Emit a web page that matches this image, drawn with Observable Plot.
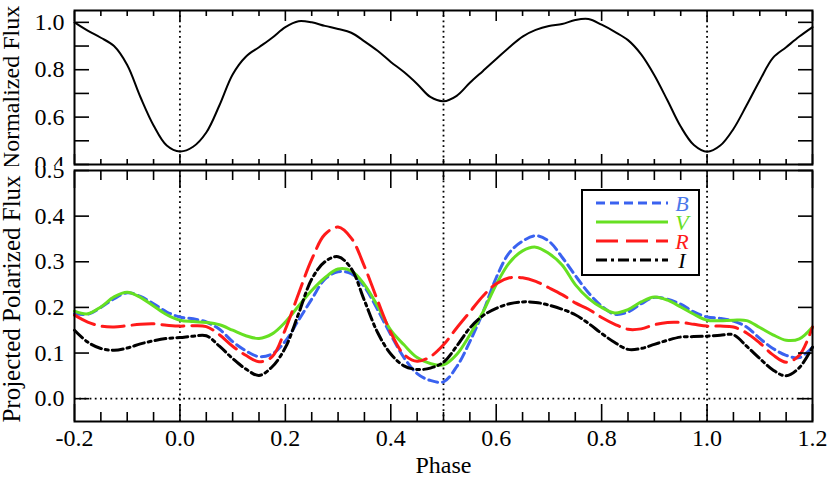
<!DOCTYPE html>
<html><head><meta charset="utf-8">
<script src="https://cdn.jsdelivr.net/npm/d3@7"></script>
<script src="https://cdn.jsdelivr.net/npm/@observablehq/plot@0.6"></script>
<style>
body{margin:0;background:#fff;}
#wrap{position:relative;width:830px;height:480px;overflow:hidden;background:#fff;}
#wrap svg{position:absolute;left:0;overflow:hidden;}
#wrap svg text{font-family:"Liberation Serif","Tinos","Times New Roman","DejaVu Serif","Noto Serif",serif !important;}
</style></head><body><div id="wrap"></div>
<script>
const phase = [-0.2,-0.175,-0.15,-0.125,-0.1,-0.075,-0.05,-0.025,0,0.025,0.05,0.075,0.1,0.125,0.15,0.175,0.2,0.225,0.25,0.275,0.3,0.325,0.35,0.375,0.4,0.425,0.45,0.475,0.5,0.525,0.55,0.575,0.6,0.625,0.65,0.675,0.7,0.725,0.75,0.775,0.8,0.825,0.85,0.875,0.9,0.925,0.95,0.975,1.0,1.025,1.05,1.075,1.1,1.125,1.15,1.175,1.2];
const normFlux = [1.0,0.965,0.935,0.9,0.82,0.685,0.565,0.48,0.455,0.475,0.535,0.65,0.78,0.855,0.895,0.935,0.98,1.005,1.0,0.985,0.972,0.956,0.92,0.88,0.833,0.79,0.74,0.685,0.667,0.69,0.745,0.795,0.845,0.895,0.94,0.968,0.985,0.993,1.01,1.014,0.99,0.96,0.925,0.865,0.777,0.67,0.56,0.482,0.454,0.48,0.55,0.65,0.755,0.85,0.895,0.94,0.98];
const polB = [0.186,0.185,0.2,0.219,0.232,0.224,0.208,0.19,0.179,0.175,0.168,0.152,0.125,0.105,0.092,0.098,0.126,0.172,0.218,0.262,0.278,0.274,0.245,0.195,0.14,0.09,0.055,0.04,0.037,0.07,0.125,0.19,0.265,0.32,0.345,0.357,0.345,0.31,0.27,0.232,0.203,0.185,0.19,0.208,0.222,0.218,0.207,0.19,0.179,0.176,0.17,0.157,0.132,0.11,0.095,0.09,0.113];
const polV = [0.192,0.186,0.201,0.223,0.233,0.222,0.203,0.184,0.172,0.169,0.167,0.162,0.15,0.138,0.132,0.142,0.168,0.203,0.237,0.265,0.284,0.28,0.25,0.203,0.15,0.118,0.09,0.077,0.074,0.097,0.14,0.19,0.25,0.298,0.324,0.332,0.318,0.293,0.25,0.22,0.2,0.188,0.195,0.212,0.223,0.216,0.201,0.185,0.172,0.171,0.172,0.171,0.156,0.14,0.128,0.131,0.157];
const polR = [0.183,0.168,0.159,0.157,0.16,0.163,0.164,0.161,0.159,0.16,0.158,0.14,0.115,0.095,0.081,0.092,0.152,0.23,0.305,0.36,0.376,0.352,0.29,0.215,0.145,0.097,0.082,0.092,0.118,0.155,0.19,0.225,0.252,0.265,0.265,0.257,0.243,0.228,0.21,0.196,0.178,0.163,0.152,0.153,0.162,0.167,0.167,0.163,0.159,0.159,0.157,0.144,0.122,0.096,0.08,0.095,0.157];
const polI = [0.15,0.124,0.11,0.106,0.111,0.12,0.127,0.132,0.134,0.137,0.138,0.115,0.088,0.065,0.051,0.07,0.112,0.186,0.262,0.3,0.311,0.285,0.215,0.145,0.098,0.072,0.064,0.067,0.08,0.115,0.155,0.182,0.198,0.208,0.212,0.211,0.205,0.196,0.184,0.165,0.143,0.123,0.108,0.11,0.119,0.128,0.135,0.136,0.137,0.139,0.14,0.115,0.088,0.063,0.05,0.068,0.113];

const bandNames = ["B","V","R","I"];
const bandColors = ["#3a62f0","#66e022","#ff1a1a","#000000"];
const bandDash = ["9,5",null,"22,8","11,4,3,4"];
const bandValues = [polB, polV, polR, polI];

const xMajorTicks = [-0.2,0,0.2,0.4,0.6,0.8,1.0,1.2];
const xMinorTicks = [-0.15,-0.1,-0.05,0.05,0.1,0.15,0.25,0.3,0.35,0.45,0.5,0.55,0.65,0.7,0.75,0.85,0.9,0.95,1.05,1.1,1.15];
const yTopTicks = [0.4,0.5,0.6,0.7,0.8,0.9,1.0];
const yTopLabels = [0.4,0.6,0.8,1.0];
const yBotTicks = [0,0.1,0.2,0.3,0.4,0.5];
const refPhases = [0,0.5,1.0];
const zeroLine = [0];
const topTitle = "Normalized Flux";
const botTitle = ["Projected Polarized Flux"];
const xTitle = "Phase";

const fmt = d => d.toFixed(1);
const blank = () => "";
const FONT = '"Liberation Serif","Tinos","Times New Roman","DejaVu Serif","Noto Serif",serif';
const font = {fontFamily: FONT, fontSize: "24px", background: "white", color: "black"};
const W = 830, ML = 74, MR = 18;

function tickAxes(yTicks, majorLen, minorLen, yLen) {
  return [
    Plot.axisX({anchor: "bottom", ticks: xMajorTicks, tickSize: majorLen, dy: -majorLen, tickFormat: blank, label: null, strokeWidth: 1.6}),
    Plot.axisX({anchor: "bottom", ticks: xMinorTicks, tickSize: minorLen, dy: -minorLen, tickFormat: blank, label: null, strokeWidth: 1.6}),
    Plot.axisX({anchor: "top", ticks: xMajorTicks, tickSize: majorLen, dy: majorLen, tickFormat: blank, label: null, strokeWidth: 1.6}),
    Plot.axisX({anchor: "top", ticks: xMinorTicks, tickSize: minorLen, dy: minorLen, tickFormat: blank, label: null, strokeWidth: 1.6}),
    Plot.axisY({anchor: "left", ticks: yTicks, tickSize: yLen, dx: yLen, tickFormat: blank, label: null, strokeWidth: 1.6}),
    Plot.axisY({anchor: "right", ticks: yTicks, tickSize: yLen, dx: -yLen, tickFormat: blank, label: null, strokeWidth: 1.6})
  ];
}

const topData = phase.map((p, i) => ({phase: p, flux: normFlux[i]}));
const topPlot = Plot.plot({
  width: W, height: 166, marginTop: 10, marginBottom: 2, marginLeft: ML, marginRight: MR,
  style: font,
  x: {domain: [-0.2, 1.2]},
  y: {domain: [0.4, 1.05]},
  marks: [
    Plot.ruleX(refPhases, {x: d => d, stroke: "black", strokeWidth: 1.8, strokeDasharray: "1.8,3.4"}),
    Plot.line(topData, {x: "phase", y: "flux", stroke: "black", strokeWidth: 2, curve: "catmull-rom"}),
    ...tickAxes(yTopTicks, 10, 5, 15),
    Plot.axisY({anchor: "left", ticks: yTopLabels, tickSize: 0, tickPadding: 10, tickFormat: fmt,
      label: topTitle, labelAnchor: "center", labelOffset: 73, labelArrow: "none"}),
    Plot.frame({stroke: "black", strokeWidth: 2})
  ]
});
topPlot.style.top = "0px";

const rows = [];
bandNames.forEach((b, k) => phase.forEach((p, i) => rows.push({phase: p, value: bandValues[k][i], band: b})));

const botPlot = Plot.plot({
  width: W, height: 314, marginTop: 4, marginBottom: 59, marginLeft: ML, marginRight: MR,
  style: font,
  x: {domain: [-0.2, 1.2]},
  y: {domain: [-0.05, 0.5]},
  marks: [
    Plot.ruleX(refPhases, {x: d => d, stroke: "black", strokeWidth: 1.8, strokeDasharray: "1.8,3.4"}),
    Plot.ruleY(zeroLine, {y: d => d, stroke: "black", strokeWidth: 1.8, strokeDasharray: "1.8,3.4"}),
    ...bandNames.map((b, k) => Plot.line(rows.filter(r => r.band === b), {
      x: "phase", y: "value", stroke: bandColors[k], strokeWidth: 3,
      strokeDasharray: bandDash[k], curve: "catmull-rom"
    })),
    ...tickAxes(yBotTicks, 17, 9, 15),
    Plot.axisY({anchor: "left", ticks: yBotTicks, tickSize: 0, tickPadding: 10, tickFormat: fmt, label: null}),
    Plot.text(botTitle, {text: d => d, frameAnchor: "left", rotate: -90, lineAnchor: "top", textAnchor: "middle",
      dx: -72, dy: 3, fontSize: 25, fill: "black"}),
    Plot.axisX({anchor: "bottom", ticks: xMajorTicks, tickSize: 0, tickPadding: 7, tickFormat: fmt,
      label: xTitle, labelAnchor: "center", labelOffset: 51, labelArrow: "none"}),
    Plot.frame({stroke: "black", strokeWidth: 2})
  ]
});
botPlot.style.top = "166px";

const wrap = document.getElementById("wrap");
wrap.appendChild(topPlot);
wrap.appendChild(botPlot);

// legend
const lg = d3.select(wrap).append("svg")
  .attr("width", 120).attr("height", 88)
  .style("left", "581px").style("top", "189px");
lg.append("rect").attr("x", 1).attr("y", 1).attr("width", 117).attr("height", 85)
  .attr("fill", "white").attr("stroke", "black").attr("stroke-width", 2);
bandNames.forEach((b, k) => {
  const yy = 14 + k * 19;
  lg.append("line").attr("x1", 15).attr("x2", 87).attr("y1", yy).attr("y2", yy)
    .attr("stroke", bandColors[k]).attr("stroke-width", 3)
    .attr("stroke-dasharray", bandDash[k]);
  lg.append("text").attr("x", 101).attr("y", yy + 7.5).attr("text-anchor", "middle")
    .attr("font-style", "italic")
    .attr("font-size", 22).attr("fill", k === 0 ? "#4a78ea" : bandColors[k]).text(b);
});
</script></body></html>
